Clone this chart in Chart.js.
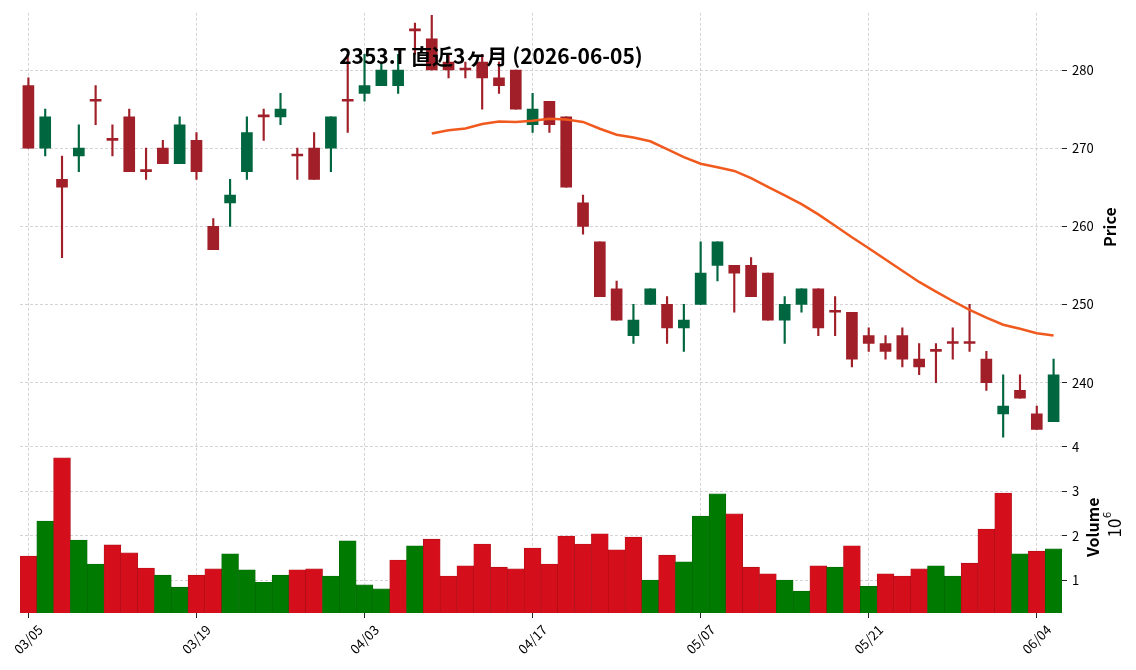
<!DOCTYPE html>
<html lang="ja">
<head>
<meta charset="utf-8">
<title>2353.T 直近3ヶ月</title>
<script src="https://cdn.jsdelivr.net/npm/chart.js@4.4.1/dist/chart.umd.min.js"></script>
<style>
    html, body { margin: 0; padding: 0; background: #ffffff; }
    #wrap { width: 1136px; height: 670px; position: relative; }
</style>
</head>
<body>
<div id="wrap">
    <canvas id="priceChart" width="1136" height="670"></canvas>
</div>
<script>
// Trading days (MM/DD)
const dates = [
    '03/05', '03/06', '03/09', '03/10', '03/11', '03/12', '03/13', '03/16', '03/17', '03/18',
    '03/19', '03/23', '03/24', '03/25', '03/26', '03/27', '03/30', '03/31', '04/01', '04/02',
    '04/03', '04/06', '04/07', '04/08', '04/09', '04/10', '04/13', '04/14', '04/15', '04/16',
    '04/17', '04/20', '04/21', '04/22', '04/23', '04/24', '04/27', '04/28', '04/30', '05/01',
    '05/07', '05/08', '05/11', '05/12', '05/13', '05/14', '05/15', '05/18', '05/19', '05/20',
    '05/21', '05/22', '05/25', '05/26', '05/27', '05/28', '05/29', '06/01', '06/02', '06/03',
    '06/04', '06/05'
];

// OHLC values
const opens = [
    278, 270, 266, 269, 276, 271, 274, 267, 270, 268,
    271, 260, 263, 267, 274, 274, 269, 270, 270, 276,
    277, 278, 278, 285, 284, 281, 280, 281, 279, 280,
    273, 276, 274, 263, 258, 252, 246, 250, 250, 247,
    250, 255, 255, 255, 254, 248, 250, 252, 249, 249,
    246, 245, 246, 243, 244, 245, 245, 243, 236, 239,
    236, 235
];
const highs = [
    279, 275, 269, 273, 278, 273, 275, 270, 271, 274,
    272, 261, 266, 274, 275, 277, 270, 272, 274, 282,
    282, 281, 282, 286, 287, 282, 281, 282, 281, 280,
    277, 276, 274, 264, 258, 253, 250, 252, 251, 250,
    258, 258, 255, 256, 254, 251, 252, 252, 251, 249,
    247, 246, 247, 245, 245, 247, 250, 244, 241, 241,
    237, 243
];
const lows = [
    270, 269, 256, 267, 273, 269, 267, 266, 268, 268,
    266, 257, 260, 266, 271, 273, 266, 266, 267, 272,
    276, 278, 277, 282, 280, 279, 279, 275, 277, 275,
    272, 272, 265, 259, 251, 248, 245, 250, 245, 244,
    250, 253, 249, 251, 248, 245, 249, 246, 246, 242,
    244, 243, 242, 241, 240, 243, 244, 239, 233, 238,
    234, 235
];
const closes = [
    270, 274, 265, 270, 276, 271, 267, 267, 268, 273,
    267, 257, 264, 272, 274, 275, 269, 266, 274, 276,
    278, 280, 280, 285, 280, 280, 280, 279, 278, 275,
    275, 273, 265, 260, 251, 248, 248, 252, 247, 248,
    254, 258, 254, 251, 248, 250, 252, 247, 249, 243,
    245, 244, 243, 242, 244, 245, 245, 240, 237, 238,
    234, 241
];

// 25-day moving average
const ma25 = [
    null, null, null, null, null, null, null, null, null, null,
    null, null, null, null, null, null, null, null, null, null,
    null, null, null, null, 271.88, 272.28, 272.52, 273.08, 273.40, 273.36,
    273.52, 273.76, 273.68, 273.36, 272.48, 271.72, 271.36, 270.88, 269.88, 268.84,
    268.00, 267.56, 267.08, 266.16, 265.04, 263.96, 262.84, 261.52, 260.08, 258.60,
    257.20, 255.76, 254.32, 252.88, 251.64, 250.44, 249.32, 248.32, 247.40, 246.88,
    246.32, 246.04
];

// Volume (shares)
const volumes = [
    1540000, 2330000, 3750000, 1900000, 1360000, 1790000, 1610000, 1270000, 1110000, 840000,
    1110000, 1250000, 1590000, 1230000, 950000, 1110000, 1230000, 1250000, 1090000, 1880000,
    890000, 800000, 1450000, 1770000, 1920000, 1090000, 1320000, 1810000, 1290000, 1250000,
    1720000, 1360000, 1990000, 1810000, 2040000, 1680000, 1970000, 1000000, 1560000, 1410000,
    2440000, 2940000, 2490000, 1290000, 1140000, 1000000, 750000, 1320000, 1290000, 1770000,
    860000, 1140000, 1090000, 1250000, 1320000, 1090000, 1380000, 2150000, 2960000, 1590000,
    1650000, 1700000
];

// Axis tick values
const priceTicks = [240, 250, 260, 270, 280];
const volumeTicks = [1000000, 2000000, 3000000, 4000000];

const titleText = '2353.T 直近3ヶ月 (2026-06-05)';

document.addEventListener('DOMContentLoaded', function() {
    const upColor = '#00663f';
    const downColor = '#a01f28';
    const volUp = '#007a00';
    const volDown = '#d40f1b';
    const gridColor = '#c9c9c9';
    const fontFamily = '"Noto Sans CJK JP", "DejaVu Sans", sans-serif';

    Chart.defaults.font.family = fontFamily;
    Chart.defaults.font.size = 13;
    Chart.defaults.color = '#000';

    // candle colour: up only when open < close (doji counts as down)
    const candleColors = opens.map((o, i) => o < closes[i] ? upColor : downColor);
    // volume colour follows the change from the previous close
    const volColors = closes.map((c, i) => {
        if (i === 0) return opens[0] < c ? volUp : volDown;
        return closes[i - 1] < c ? volUp : volDown;
    });
    const volEdge = volColors.map(c => c === volUp ? '#006400' : '#a80c15');

    const priceMin = 232.46, priceMax = 287.32;
    const volMin = 257000, volMax = 4120000;

    // Title and panel labels drawn on top of the plot
    const panelLabels = {
        id: 'panelLabels',
        afterDraw(chart) {
            const c = chart.ctx;
            const py = chart.scales.y;
            const vy = chart.scales.yVol;
            c.save();
            c.fillStyle = '#000';
            c.textAlign = 'center';
            c.textBaseline = 'middle';
            c.font = 'bold 21px ' + fontFamily;
            c.fillText(titleText, 491, 56);

            const rotated = function(text, x, y, font) {
                c.save();
                c.translate(x, y);
                c.rotate(-Math.PI / 2);
                c.font = font;
                c.fillText(text, 0, 0);
                c.restore();
            };
            rotated('Price', 1110, (py.top + py.bottom) / 2, 'bold 16px ' + fontFamily);
            rotated('Volume', 1093, (vy.top + vy.bottom) / 2, 'bold 16px ' + fontFamily);

            // offset text 10^6
            c.save();
            c.translate(1115, 524);
            c.rotate(-Math.PI / 2);
            c.font = '17px ' + fontFamily;
            c.textAlign = 'center';
            c.fillText('10', -4, 0);
            c.font = '11px ' + fontFamily;
            c.textAlign = 'left';
            c.fillText('6', 6, -8);
            c.restore();
            c.restore();
        }
    };

    const ctx = document.getElementById('priceChart');
    new Chart(ctx, {
        type: 'bar',
        data: {
            labels: dates,
            datasets: [{
                type: 'line',
                label: 'MA25',
                data: ma25,
                yAxisID: 'y',
                borderColor: '#f05a1e',
                borderWidth: 2.5,
                pointRadius: 0,
                tension: 0,
                order: 0
            }, {
                label: 'body',
                data: opens.map((o, i) => [o, closes[i]]),
                yAxisID: 'y',
                backgroundColor: candleColors,
                barThickness: 11,
                minBarLength: 2,
                grouped: false,
                order: 1
            }, {
                label: 'wick',
                data: lows.map((l, i) => [l, highs[i]]),
                yAxisID: 'y',
                backgroundColor: candleColors,
                barThickness: 1.5,
                grouped: false,
                order: 2
            }, {
                label: 'Volume',
                data: volumes,
                yAxisID: 'yVol',
                base: volMin,
                backgroundColor: volColors,
                borderColor: volEdge,
                borderWidth: 0.6,
                barPercentage: 1,
                categoryPercentage: 1,
                grouped: false,
                order: 3
            }]
        },
        options: {
            responsive: false,
            animation: false,
            layout: {
                padding: { left: 20, top: 12, right: 0, bottom: 0 }
            },
            plugins: {
                legend: { display: false },
                tooltip: { enabled: false },
                title: { display: false }
            },
            scales: {
                x: {
                    type: 'category',
                    offset: true,
                    border: { display: false, dash: [3, 2] },
                    grid: {
                        offset: false,
                        lineWidth: 0.8,
                        color: (c) => c.index % 10 === 0 ? gridColor : 'rgba(0,0,0,0)',
                        tickColor: (c) => c.index % 10 === 0 ? '#222' : 'rgba(0,0,0,0)',
                        tickLength: 5,
                        tickWidth: 1
                    },
                    ticks: {
                        autoSkip: false,
                        maxRotation: 45,
                        minRotation: 45,
                        padding: 4,
                        labelOffset: 12,
                        callback: function(value, index) {
                            return index % 10 === 0 ? dates[index] : '';
                        }
                    },
                    afterFit: function(scale) { scale.height = 57; }
                },
                y: {
                    type: 'linear',
                    position: 'right',
                    stack: 'panels',
                    stackWeight: 5,
                    min: priceMin,
                    max: priceMax,
                    border: { display: false, dash: [3, 2] },
                    grid: {
                        color: gridColor,
                        lineWidth: 0.8,
                        tickColor: '#222',
                        tickLength: 5,
                        tickWidth: 1
                    },
                    ticks: { padding: 5 },
                    afterBuildTicks: function(scale) {
                        scale.ticks = priceTicks.map(v => ({ value: v }));
                    },
                    afterFit: function(scale) { scale.width = 74; }
                },
                yVol: {
                    type: 'linear',
                    position: 'right',
                    stack: 'panels',
                    stackWeight: 2,
                    min: volMin,
                    max: volMax,
                    border: { display: false, dash: [3, 2] },
                    grid: {
                        color: gridColor,
                        lineWidth: 0.8,
                        tickColor: '#222',
                        tickLength: 5,
                        tickWidth: 1
                    },
                    ticks: {
                        padding: 5,
                        callback: function(value) { return value / 1000000; }
                    },
                    afterBuildTicks: function(scale) {
                        scale.ticks = volumeTicks.map(v => ({ value: v }));
                    },
                    afterFit: function(scale) { scale.width = 74; }
                }
            }
        },
        plugins: [panelLabels]
    });
});
</script>
</body>
</html>
